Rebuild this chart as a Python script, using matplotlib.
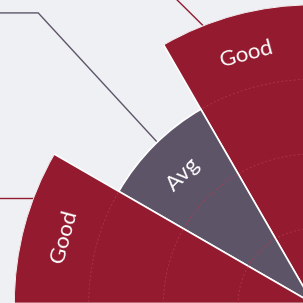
import numpy as np
import matplotlib
matplotlib.use("Agg")
from matplotlib import pyplot as plt

# visible part of the rose chart (30 degree sectors)
labels = ["Good", "Avg", "Good"]
angles_deg = [105, 135, 165]
values = [4, 3, 4]
colors = ["#941b2f", "#5e5468", "#941b2f"]
grid_levels = [1, 2, 3]

BG = "#eef0f4"
R_MAX = 4
SECTOR = 30

fig = plt.figure(figsize=(3.03, 3.03), dpi=100, facecolor=BG)
# centre of the rose sits at the lower right corner of the picture
ax = fig.add_axes([0.0462, -0.9884, 1.9736, 1.9736], projection="polar")
ax.set_facecolor(BG)
ax.set_ylim(0, R_MAX)

theta = np.deg2rad(angles_deg)
ax.bar(theta, values, width=np.deg2rad(SECTOR), bottom=0, color=colors,
       edgecolor="white", linewidth=1.2, align="center", zorder=1)

ax.grid(False)
ax.set_xticklabels([])
ax.set_yticklabels([])
ax.tick_params(length=0)
ax.spines["polar"].set_visible(False)

# dashed grid arcs, only inside the sectors
for a, v in zip(angles_deg, values):
    arc = np.deg2rad(np.linspace(a - SECTOR / 2 + 0.4, a + SECTOR / 2 - 0.4, 60))
    for lvl in grid_levels:
        if lvl < v:
            ax.plot(arc, np.full_like(arc, lvl), color="#b8384f",
                    linestyle=(0, (2.5, 2.5)), linewidth=0.6, alpha=0.8, zorder=2)

# sector labels, tangential
for t, v, lab, a in zip(theta, values, labels, angles_deg):
    ax.text(t, v - 0.55, lab, rotation=a - 90, rotation_mode="anchor",
            ha="center", va="center", color="white", fontsize=16,
            family=["Lato", "DejaVu Sans"], zorder=5)

# leader lines (offsets relative to sector middle / value)
inv = ax.transData.inverted()


def horizontal_to_left(t_deg, r):
    x_d, y_d = ax.transData.transform((np.deg2rad(t_deg), r))
    t_l, r_l = inv.transform((-5, y_d))
    return t_l, r_l


# top Good
a, v = angles_deg[0], values[0]
ax.plot(np.deg2rad([a + 6.6, a + 10.3, a + 12.5]), [v, v + 0.7, v + 1.1],
        color=colors[0], lw=1.0, clip_on=False, zorder=0.5)

# Avg
a, v = angles_deg[1], values[1]
t_end, r_end = horizontal_to_left(a - 1.6, v + 2.35)
ax.plot([np.deg2rad(a - 1.0), np.deg2rad(a - 1.6), t_end], [v, v + 2.35, r_end],
        color=colors[1], lw=1.0, clip_on=False, zorder=0.5)

# left Good
a, v = angles_deg[2], values[2]
t_end, r_end = horizontal_to_left(a - 5.6, v)
ax.plot([np.deg2rad(a - 5.6), t_end], [v, r_end],
        color=colors[2], lw=1.0, clip_on=False, zorder=0.5)

fig.savefig("out.png", dpi=100, facecolor=BG)
